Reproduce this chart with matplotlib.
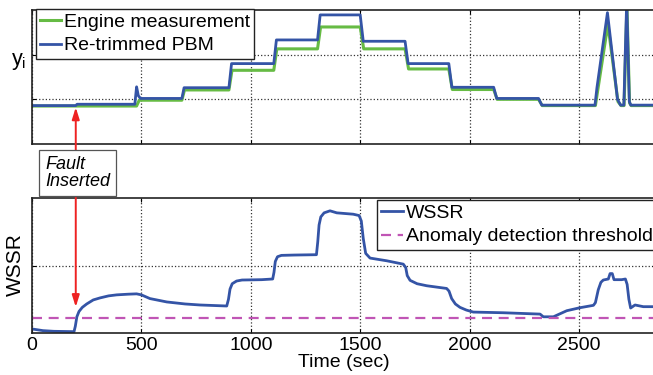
import matplotlib
matplotlib.use('Agg')
import matplotlib.pyplot as plt

plt.rcParams['font.family'] = ['Liberation Sans', 'DejaVu Sans']

# -----------------------------------------------------------------------------
# data
# -----------------------------------------------------------------------------
# top panel: engine measurement vs re-trimmed PBM (arbitrary units, 0..3)
pbm_t = [0, 200, 206, 470, 478, 486, 496, 685, 695, 900, 912, 1105, 1117,
         1305, 1317, 1500, 1514, 1705, 1719, 1905, 1919, 2110, 2124, 2315,
         2330, 2573, 2582, 2630, 2676, 2690, 2705, 2718, 2730, 2737, 2860]
pbm_y = [0.86, 0.86, 0.89, 0.89, 1.28, 1.08, 1.02, 1.02, 1.26, 1.26, 1.80,
         1.80, 2.33, 2.33, 2.89, 2.89, 2.30, 2.30, 1.80, 1.80, 1.27, 1.27,
         1.02, 1.02, 0.87, 0.87, 1.26, 2.94, 1.00, 0.87, 0.87, 3.20, 0.95,
         0.87, 0.87]

eng_t = [0, 478, 490, 685, 697, 900, 914, 1105, 1119, 1305, 1319, 1500,
         1516, 1705, 1721, 1905, 1921, 2110, 2126, 2315, 2332, 2575, 2584,
         2632, 2678, 2692, 2706, 2719, 2731, 2738, 2860]
eng_y = [0.85, 0.85, 0.98, 0.98, 1.21, 1.21, 1.65, 1.65, 2.13, 2.13, 2.62,
         2.62, 2.13, 2.13, 1.68, 1.68, 1.22, 1.22, 1.00, 1.00, 0.86, 0.86,
         1.15, 2.68, 0.95, 0.86, 0.86, 3.10, 0.92, 0.86, 0.86]

# bottom panel: WSSR (0..2)
wssr_t = [0, 50, 100, 192, 198, 205, 215, 230, 250, 280, 311, 350, 387, 440,
          478, 500, 539, 616, 700, 768, 890, 898, 905, 915, 935, 960, 1050,
          1100, 1106, 1112, 1122, 1140, 1200, 1300, 1306, 1312, 1320, 1335,
          1362, 1393, 1468, 1495, 1505, 1514, 1525, 1545, 1621, 1697, 1708,
          1715, 1728, 1760, 1804, 1895, 1906, 1918, 1935, 1956, 1985, 2017,
          2154, 2322, 2337, 2383, 2410, 2444, 2505, 2566, 2575, 2588, 2600,
          2611, 2634, 2642, 2652, 2660, 2695, 2712, 2720, 2728, 2736, 2756,
          2794, 2860]
wssr_y = [0.06, 0.035, 0.025, 0.02, 0.10, 0.24, 0.32, 0.38, 0.43, 0.49, 0.52,
          0.55, 0.565, 0.575, 0.58, 0.565, 0.51, 0.46, 0.43, 0.415, 0.40,
          0.50, 0.65, 0.73, 0.77, 0.785, 0.79, 0.80, 0.90, 1.06, 1.13, 1.15,
          1.155, 1.16, 1.35, 1.60, 1.72, 1.78, 1.81, 1.78, 1.76, 1.74, 1.66,
          1.40, 1.18, 1.11, 1.07, 1.02, 0.97, 0.85, 0.78, 0.73, 0.70, 0.66,
          0.62, 0.51, 0.43, 0.38, 0.34, 0.31, 0.30, 0.28, 0.24, 0.24, 0.28,
          0.33, 0.375, 0.41, 0.45, 0.64, 0.75, 0.785, 0.80, 0.88, 0.88, 0.79,
          0.79, 0.80, 0.72, 0.50, 0.37, 0.415, 0.39, 0.39]

threshold = 0.22
fault_time = 200
x_ticks = [0, 500, 1000, 1500, 2000, 2500]

BLUE = '#3454a6'
GREEN = '#66bb44'
MAGENTA = '#c055b5'

# -----------------------------------------------------------------------------
# figure
# -----------------------------------------------------------------------------
W, H = 653, 375
fig = plt.figure(figsize=(W / 100, H / 100), dpi=100)


def px_axes(x0, y0, x1, y1):
    return fig.add_axes([x0 / W, 1 - y1 / H, (x1 - x0) / W, (y1 - y0) / H])


ax1 = px_axes(32, 10, 656, 144)
ax2 = px_axes(32, 198, 656, 333)
xmax = (656 - 32) / 109.4 * 500

for ax in (ax1, ax2):
    ax.set_xlim(0, xmax)
    ax.set_xticks(x_ticks)
    ax.tick_params(direction='in', top=True, right=True, length=3,
                   width=0.8, labelsize=14, pad=3)
    ax.grid(True, linestyle=':', color='#333333', linewidth=0.9)
    ax.spines['right'].set_visible(False)
    for s in ('left', 'top', 'bottom'):
        ax.spines[s].set_linewidth(1.2)
        ax.spines[s].set_color('#222222')

leg_kw = dict(loc='upper left', bbox_transform=fig.transFigure,
              borderaxespad=0, fontsize=14, frameon=True, fancybox=False,
              edgecolor='#222222', framealpha=1, handlelength=1.1,
              handletextpad=0.15, labelspacing=0.3, borderpad=0.22)

# top panel
ax1.plot(eng_t, eng_y, color=GREEN, lw=2.2, label='Engine measurement')
ax1.plot(pbm_t, pbm_y, color=BLUE, lw=2.0, label='Re-trimmed PBM')
ax1.set_ylim(0, 3)
ax1.set_yticks([1, 2])
ax1.set_yticklabels([])
ax1.set_xticklabels([])
ax1.legend(bbox_to_anchor=(35.5 / W, 1 - 9 / H), **leg_kw)
fig.text(19 / W, 1 - 62 / H, 'y$_\\mathregular{i}$', fontsize=15.5,
         ha='center', va='center')

# bottom panel
ax2.plot(wssr_t, wssr_y, color=BLUE, lw=2.0, label='WSSR')
ax2.axhline(threshold, color=MAGENTA, lw=1.6, dashes=(4.5, 3),
            label='Anomaly detection threshold')
ax2.set_ylim(0, 2)
ax2.set_yticks([1])
ax2.set_yticklabels([])
ax2.legend(bbox_to_anchor=(377 / W, 1 - 200 / H), **leg_kw)
ax2.set_xlabel('Time (sec)', fontsize=14, labelpad=0)
fig.text(15.5 / W, 1 - 265 / H, 'WSSR', fontsize=15, rotation=90,
         ha='center', va='center')

# fault annotation: double-headed red arrow behind a labelled box
ax2.annotate('', xy=(fault_time, 0.82), xycoords=ax1.transData,
             xytext=(fault_time, 0.385), textcoords=ax2.transData,
             arrowprops=dict(arrowstyle='<|-|>,head_length=0.7,head_width=0.22',
                             color='#ee2222', lw=1.4, shrinkA=0, shrinkB=0),
             annotation_clip=False)
fig.text(45 / W, 1 - 173 / H, 'Fault\nInserted', fontsize=13,
         style='italic', ha='left', va='center', linespacing=1.0,
         bbox=dict(boxstyle='square,pad=0.35', fc='white', ec='#555555',
                   lw=0.9), zorder=5)

fig.savefig('out.png', dpi=100)
